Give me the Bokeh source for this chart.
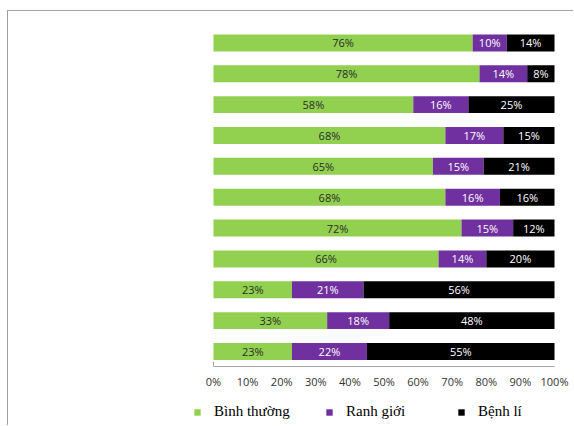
from bokeh.plotting import figure
from bokeh.models import Range1d, Legend, LegendItem, FixedTicker, ColumnDataSource
from bokeh.embed import file_html
from bokeh.resources import INLINE
from bokeh.core.properties import value

# ---- data (rows listed top to bottom) ----
normal = [76, 78, 58, 68, 65, 68, 72, 66, 23, 33, 23]
borderline = [10, 14, 16, 17, 15, 16, 15, 14, 21, 18, 22]
disease = [14, 8, 25, 15, 21, 16, 12, 20, 56, 48, 55]
series_names = ["Bình thường", "Ranh giới", "Bệnh lí"]
series_colors = ["#92D050", "#7030A0", "#000000"]
label_colors = ["#2b2b2b", "#ffffff", "#ffffff"]
tick_values = [0, 10, 20, 30, 40, 50, 60, 70, 80, 90, 100]
tick_labels = ["0%", "10%", "20%", "30%", "40%", "50%", "60%", "70%", "80%", "90%", "100%"]

n = len(normal)
rows = [n - 0.5 - i for i in range(n)]
series = [normal, borderline, disease]
totals = [sum(v) for v in zip(*series)]

# ---- layout (pixels) ----
W, H = 566, 415
top = 16                    # canvas px above the first row band
plot_left, plot_w = 205, 341  # where 0% .. 100% sit on the canvas
band_h = 339.4              # height taken by the 11 row bands
px_x = plot_w / 100.0
px_y = band_h / n
x_rng = Range1d(-plot_left / px_x, 100 + (W - plot_left - plot_w) / px_x)
y_rng = Range1d(n - (H - top) / px_y, n)

p = figure(width=W, height=H, output_backend="svg", toolbar_location=None,
           x_range=x_rng, y_range=y_rng,
           min_border_left=0, min_border_right=0, min_border_top=top, min_border_bottom=0)
p.outline_line_color = None
p.xgrid.visible = False
p.ygrid.visible = False
p.background_fill_color = "white"
p.border_fill_color = "white"
p.styles = {"margin-left": "7px", "margin-top": "10px",
            "border-left": "1px solid #a0a0a0", "border-top": "1px solid #a0a0a0"}

renderers = []
cum = [0.0] * n
for vals, col, tcol in zip(series, series_colors, label_colors):
    left = [c for c in cum]
    right = [c + 100.0 * v / t for c, v, t in zip(cum, vals, totals)]
    cum = right
    src = ColumnDataSource(dict(
        y=rows, left=left, right=right,
        mid=[(a + b) / 2 for a, b in zip(left, right)],
        txt=[f"{v}%" for v in vals]))
    r = p.hbar(y="y", left="left", right="right", height=0.55, source=src,
               fill_color=col, line_color=None)
    renderers.append(r)
    p.text(x="mid", y="y", text="txt", source=src, text_align="center",
           text_baseline="middle", text_color=tcol, text_font=value("Open Sans"),
           text_font_size="11px")

ax = p.xaxis[0]
ax.fixed_location = 0
ax.bounds = (0, 100)
ax.ticker = FixedTicker(ticks=tick_values)
ax.major_label_overrides = {t: l for t, l in zip(tick_values, tick_labels)}
ax.axis_line_color = "#a6a6a6"
ax.major_tick_out = 0
ax.major_tick_in = 0
ax.minor_tick_out = 0
ax.minor_tick_in = 0
ax.major_label_standoff = 7
ax.major_label_text_font = "Open Sans"
ax.major_label_text_font_size = "11px"
ax.major_label_text_color = "#333333"

yax = p.yaxis[0]
yax.fixed_location = 0
yax.bounds = (0, 0.17)
yax.ticker = FixedTicker(ticks=[])
yax.axis_line_color = "#a6a6a6"
yax.major_tick_out = 0
yax.major_tick_in = 0
yax.minor_tick_out = 0
yax.minor_tick_in = 0

legend = Legend(items=[LegendItem(label=nm, renderers=[r]) for nm, r in zip(series_names, renderers)],
                orientation="horizontal", location=(plot_left - 20, 6),
                glyph_width=8, glyph_height=8, label_standoff=13, label_width=85,
                spacing=26, padding=0, margin=0, border_line_color=None,
                background_fill_alpha=0, label_text_font="Liberation Serif",
                label_text_font_size="15px", label_text_color="#000000")
p.add_layout(legend)

open("out.html", "w").write(file_html(p, INLINE))
